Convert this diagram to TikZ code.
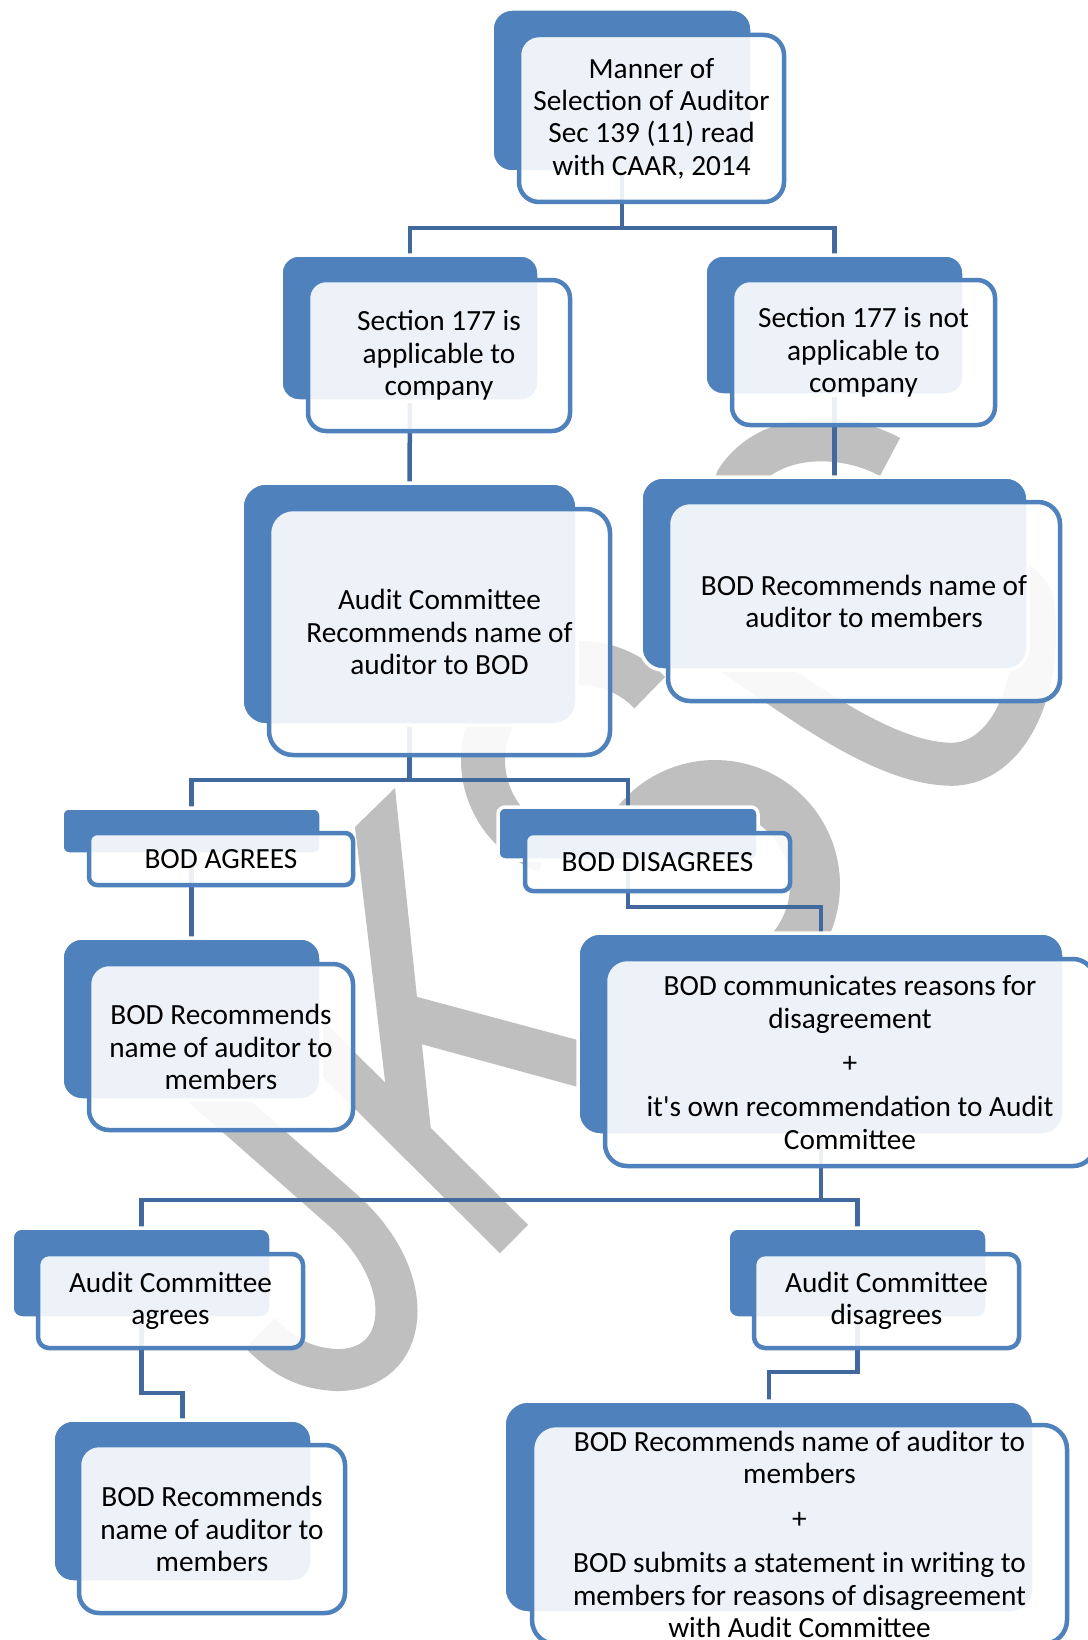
\documentclass[tikz,border=0pt]{standalone}
\usepackage{fontspec}
\setmainfont{Carlito}[Ligatures=TeXOff]
\definecolor{boxblue}{HTML}{4F81BD}
\definecolor{linkblue}{HTML}{41699E}
\definecolor{markgrey}{HTML}{BFBFBF}
\pgfdeclarelayer{watermark}
\pgfdeclarelayer{links}
\pgfsetlayers{watermark,links,main}
\tikzset{
  sz/.style 2 args={minimum width=#1pt, minimum height=#2pt},
  backbox/.style={draw=white, line width=3.5pt, fill=boxblue, rounded corners=#1,
    inner sep=0pt, outer sep=0pt},
  backbox/.default=20pt,
  frontbox/.style={draw=boxblue, line width=4.5pt, fill=white, fill opacity=0.9,
    text opacity=1, rounded corners=#1, inner sep=0pt, outer sep=0pt,
    align=center, text=black, font=\fontsize{29.3}{32.4}\selectfont},
  frontbox/.default=20pt,
  link/.style={draw=linkblue, line width=4.5pt},
  markstroke/.style={draw=markgrey, line join=round},
}
\begin{document}
\begin{tikzpicture}[x=1pt, y=-1pt]
\useasboundingbox (0,0) rectangle (1087,1640);

% ---------- boxes: a blue plate with a framed card on top ----------
\node[backbox, sz={260}{163}] (n1b) at (622,90.5) {};
\node[frontbox, sz={265}{167}] (n1) at (651.5,118.5)
  {Manner of\\Selection of Auditor\\Sec 139 (11) read\\with CAAR, 2014};

\node[backbox=18pt, sz={258}{146}] (n2b) at (410,328) {};
\node[frontbox=18pt, sz={262}{151}] (n2) at (439,355.5)
  {Section 177 is\\applicable to\\company};

\node[backbox=18pt, sz={259}{140}] (n3b) at (834.5,325) {};
\node[frontbox=18pt, sz={263}{145}] (n3) at (863.5,352.5)
  {Section 177 is not\\applicable to\\company};

\node[backbox=24pt, sz={335}{242}] (n4b) at (409.5,604) {};
\node[frontbox=24pt, sz={341}{246}] (n4) at (439.5,632)
  {Audit Committee\\Recommends name of\\auditor to BOD};

\node[backbox=22pt, sz={387}{193}] (n5b) at (834.5,573.5) {};
\node[frontbox=22pt, sz={392}{199}] (n5) at (864,601.5)
  {BOD Recommends name of\\auditor to members};

\node[backbox=7pt, sz={259}{46}] (n6b) at (191.5,831) {};
\node[frontbox=8pt, sz={264}{52}] (n6) at (221,859) {BOD AGREES};

\node[backbox=20pt, sz={259}{162}] (n7b) at (191.5,1019) {};
\node[frontbox=20pt, sz={264}{166}] (n7) at (221,1047)
  {BOD Recommends\\name of auditor to\\members};

\node[backbox=7pt, sz={260}{53}] (n8b) at (628,833.5) {};
\node[frontbox=8pt, sz={265}{58}] (n8) at (657.5,862) {BOD DISAGREES};

\node[backbox=22pt, sz={486}{202}] (n9b) at (821,1034) {};
\node[frontbox=22pt, sz={490}{207}] (n9) at (850,1062.5)
  {BOD communicates reasons for\\disagreement\\[12pt]+\\[12pt]it's own recommendation to Audit\\Committee};

\node[backbox=10pt, sz={259}{90}] (n10b) at (141.5,1273) {};
\node[frontbox=11pt, sz={265}{94}] (n10) at (170.5,1301)
  {Audit Committee\\agrees};

\node[backbox=20pt, sz={259}{162}] (n11b) at (182.5,1501) {};
\node[frontbox=20pt, sz={266}{168}] (n11) at (212,1529)
  {BOD Recommends\\name of auditor to\\members};

\node[backbox=10pt, sz={259}{90}] (n12b) at (857.5,1273) {};
\node[frontbox=11pt, sz={265}{94}] (n12) at (886.5,1301)
  {Audit Committee\\disagrees};

\node[backbox=24pt, sz={530}{212}] (n13b) at (769,1507) {};
\node[frontbox=24pt, sz={535}{219}] (n13) at (799.5,1534.5)
  {BOD Recommends name of auditor to\\members\\[12pt]+\\[12pt]BOD submits a statement in writing to\\members for reasons of disagreement\\with Audit Committee};

% ---------- connectors (behind the boxes) ----------
\begin{pgfonlayer}{links}
  \draw[link] (n1b.south) -- ++(0,56) coordinate (j1);
  \draw[link] (n2b.north) |- (j1) -| (n3b.north);
  \draw[link] (n2b.south) -- (n4b.north);
  \draw[link] (n3b.south) -- (n5b.north);
  \draw[link] (n4b.south) -- ++(0,55) coordinate (j4);
  \draw[link] (n6b.north) |- (j4) -| (n8b.north);
  \draw[link] (n6b.south) -- (n7b.north);
  \draw[link] (n8b.south) -- ++(0,47) -| (n9b.north);
  \draw[link] (n9b.south) -- ++(0,65) coordinate (j7);
  \draw[link] (n10b.north) |- (j7) -| (n12b.north);
  \draw[link] (n10b.south) -- ++(0,75) -| (n11b.north);
  \draw[link] (n12b.south) -- ++(0,54) -| (n13b.north);
\end{pgfonlayer}

% ---------- grey watermark lettering ----------
\begin{pgfonlayer}{watermark}
  \fill[white] (0,0) rectangle (1087,1640);
  % J
  \draw[markstroke, line width=42pt] (150,1040) -- (345,1212)
    .. controls (420,1280) and (410,1372) .. (335,1370)
    .. controls (305,1368) and (285,1358) .. (260,1333);
  % K
  \draw[markstroke, line width=40pt] (311,1037) -- (514,1239);
  \fill[markgrey] (355,827) -- (395,788) -- (432,1140) -- (392,1140) -- cycle;
  \fill[markgrey] (410,995) -- (600,1046) -- (600,1093) -- (410,1041) -- cycle;
  % C
  \draw[markstroke, line width=44pt]
    plot[domain=-250:-44, samples=60] ({580+97*cos(\x)},{760+97*sin(\x)});
  % O
  \draw[markstroke, line width=50pt]
    plot[domain=-165:40, samples=60] ({715+100*cos(\x)},{885+100*sin(\x)});
  % S
  \draw[markstroke, line width=43pt] (890,457)
    .. controls (845,432) and (770,430) .. (737,480)
    .. controls (715,530) and (990,520) .. (1032,600)
    .. controls (1045,680) and (1010,770) .. (945,764)
    .. controls (880,760) and (800,700) .. (735,655);
\end{pgfonlayer}
\end{tikzpicture}
\end{document}
